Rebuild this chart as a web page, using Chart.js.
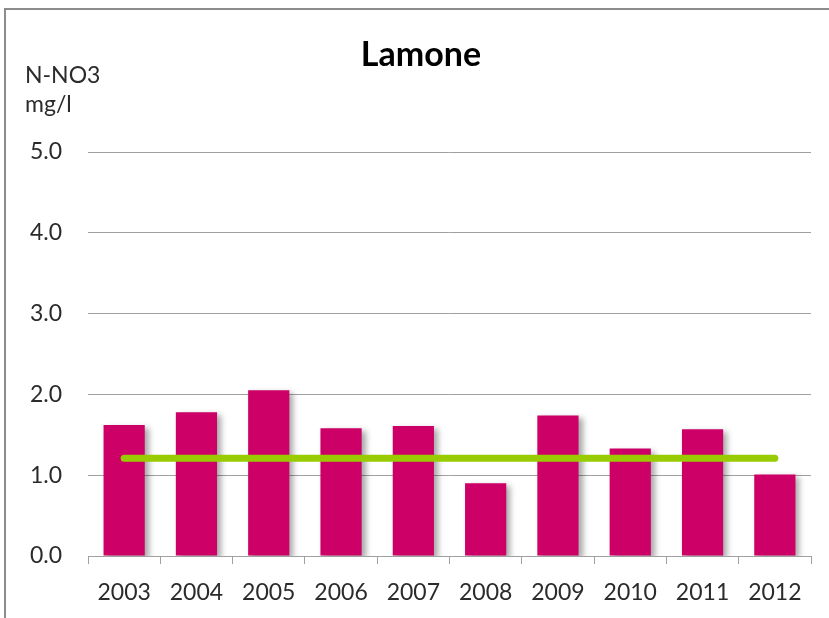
<!DOCTYPE html>
<html>
<head>
<meta charset="utf-8">
<script src="https://cdn.jsdelivr.net/npm/chart.js@4"></script>
<style>
html,body{margin:0;padding:0;background:#fff;}
#wrap{position:relative;width:829px;height:618px;}
#frame{position:absolute;left:4px;top:8px;width:900px;height:700px;border-left:2px solid #8c8c8c;border-top:2px solid #8c8c8c;}
canvas{position:absolute;left:0;top:0;}
</style>
</head>
<body>
<div id="wrap">
<div id="frame"></div>
<canvas id="chart" width="829" height="618"></canvas>
</div>
<script>
const years=["2003","2004","2005","2006","2007","2008","2009","2010","2011","2012"];
const nno3=[1.62,1.78,2.05,1.58,1.61,0.90,1.74,1.33,1.57,1.01];
const target=[1.21,1.21,1.21,1.21,1.21,1.21,1.21,1.21,1.21,1.21];
const yTicks=[0,1,2,3,4,5];

const fontName="Lato, 'Open Sans', sans-serif";

// shadow under the bars
const barShadow={
id:"barShadow",
beforeDatasetDraw(chart,args){
if(args.meta.type!=="bar")return;
const ctx=chart.ctx;
ctx.save();
ctx.shadowColor="rgba(0,0,0,0.35)";
ctx.shadowBlur=6;
ctx.shadowOffsetX=4;
ctx.shadowOffsetY=3;
},
afterDatasetDraw(chart,args){
if(args.meta.type!=="bar")return;
chart.ctx.restore();
}
};

// title and unit label
const texts={
id:"texts",
afterDraw(chart){
const ctx=chart.ctx;
ctx.save();
ctx.fillStyle="#000";
ctx.font="bold 34px "+fontName;
ctx.textAlign="center";
ctx.textBaseline="middle";
ctx.fillText("Lamone",421,55);
ctx.fillStyle="#2b2b2b";
ctx.font="23px "+fontName;
ctx.textAlign="left";
ctx.fillText("N-NO3",25,76);
ctx.fillText("mg/l",25,105);
ctx.restore();
}
};

new Chart(document.getElementById("chart"),{
type:"bar",
data:{
labels:years,
datasets:[{
type:"line",
label:"target",
data:target,
borderColor:"#99cc00",
borderWidth:7,
borderCapStyle:"round",
pointRadius:0,
order:0
},{
type:"bar",
label:"N-NO3",
data:nno3,
backgroundColor:"#cc0066",
barPercentage:0.57,
categoryPercentage:1,
order:1
}]
},
options:{
responsive:false,
animation:false,
layout:{padding:{top:152,right:18,left:0,bottom:0}},
plugins:{legend:{display:false},tooltip:{enabled:false},title:{display:false}},
scales:{
x:{
grid:{offset:true,drawOnChartArea:false,drawTicks:true,tickLength:8,color:"#a0a0a0"},
border:{display:false},
ticks:{color:"#2b2b2b",font:{family:fontName,size:23},padding:15,maxRotation:0},
afterFit(scale){scale.height=62;}
},
y:{
min:0,max:5,
afterBuildTicks(scale){scale.ticks=yTicks.map(v=>({value:v}));},
grid:{color:"#a0a0a0",drawTicks:false},
border:{display:false},
ticks:{color:"#2b2b2b",font:{family:fontName,size:23},padding:26,callback:v=>v.toFixed(1)},
afterFit(scale){scale.width=88;}
}
}
},
plugins:[barShadow,texts]
});
</script>
</body>
</html>
